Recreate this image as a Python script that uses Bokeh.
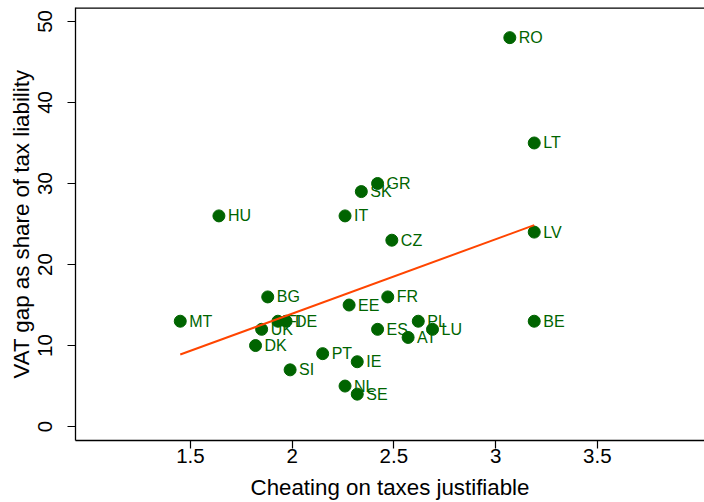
import numpy as np
from bokeh.plotting import figure
from bokeh.models import ColumnDataSource, Range1d, FixedTicker, Span
from bokeh.core.properties import value
from bokeh.embed import file_html
from bokeh.resources import INLINE

countries = ["RO", "LT", "LV", "BE", "HU", "IT", "SK", "GR", "CZ", "BG", "MT", "FI", "DE",
             "UK", "DK", "EE", "FR", "ES", "PL", "LU", "AT", "PT", "IE", "SI", "NL", "SE"]
cheating = [3.07, 3.19, 3.19, 3.19, 1.64, 2.26, 2.34, 2.42, 2.49, 1.88, 1.45, 1.93, 1.97,
            1.85, 1.82, 2.28, 2.47, 2.42, 2.62, 2.69, 2.57, 2.15, 2.32, 1.99, 2.26, 2.32]
vat_gap = [48, 35, 24, 13, 26, 26, 29, 30, 23, 16, 13, 13, 13,
           12, 10, 15, 16, 12, 13, 12, 11, 9, 8, 7, 5, 4]
x_ticks = [1.5, 2, 2.5, 3, 3.5]
y_ticks = [0, 10, 20, 30, 40, 50]
x_title = "Cheating on taxes justifiable"
y_title = "VAT gap as share of tax liability"

FONT = "Liberation Sans"
GREEN = "#006400"
ORANGE = "#FF4500"

src = ColumnDataSource(dict(x=cheating, y=vat_gap, label=countries))

# linear fit
slope, intercept = np.polyfit(np.array(cheating), np.array(vat_gap), 1)
fx = np.array([min(cheating), max(cheating)])
fit_src = ColumnDataSource(dict(x=fx, y=slope * fx + intercept))

Y_TOP = 51.72
p = figure(width=704, height=502, output_backend="svg", toolbar_location=None,
           x_range=Range1d(0.935, 4.027), y_range=Range1d(-1.72, Y_TOP),
           min_border_left=75, min_border_right=0, min_border_top=7, min_border_bottom=60,
           background_fill_color="white", border_fill_color="white")
p.outline_line_color = None
p.grid.visible = False

p.scatter("x", "y", source=src, size=12, fill_color=GREEN, line_color=GREEN)
p.text("x", "y", text="label", source=src, x_offset=9, text_align="left",
       text_baseline="middle", text_font=value(FONT), text_font_size="16px",
       text_color=GREEN)
p.line("x", "y", source=fit_src, line_color=ORANGE, line_width=2)

xa = p.xaxis[0]
xa.ticker = FixedTicker(ticks=x_ticks)
xa.axis_label = x_title
ya = p.yaxis[0]
ya.ticker = FixedTicker(ticks=y_ticks)
ya.axis_label = y_title
ya.major_label_orientation = "vertical"

for ax in (xa, ya):
    ax.axis_line_color = "black"
    ax.axis_line_width = 1.3
    ax.major_tick_line_color = "black"
    ax.major_tick_line_width = 1.2
    ax.major_tick_out = 8
    ax.major_tick_in = 0
    ax.minor_tick_line_color = None
    ax.major_label_text_font = FONT
    ax.major_label_text_font_size = "20.5px"
    ax.major_label_text_color = "black"
    ax.axis_label_text_font = FONT
    ax.axis_label_text_font_size = "22.3px"
    ax.axis_label_text_font_style = "normal"
    ax.axis_label_text_color = "black"

xa.major_label_standoff = 0
xa.axis_label_standoff = 9
ya.major_label_standoff = 15
ya.axis_label_standoff = 2

# top frame line
p.add_layout(Span(location=Y_TOP, dimension="width", line_color="black", line_width=2.6))

open("out.html", "w").write(file_html(p, INLINE))
